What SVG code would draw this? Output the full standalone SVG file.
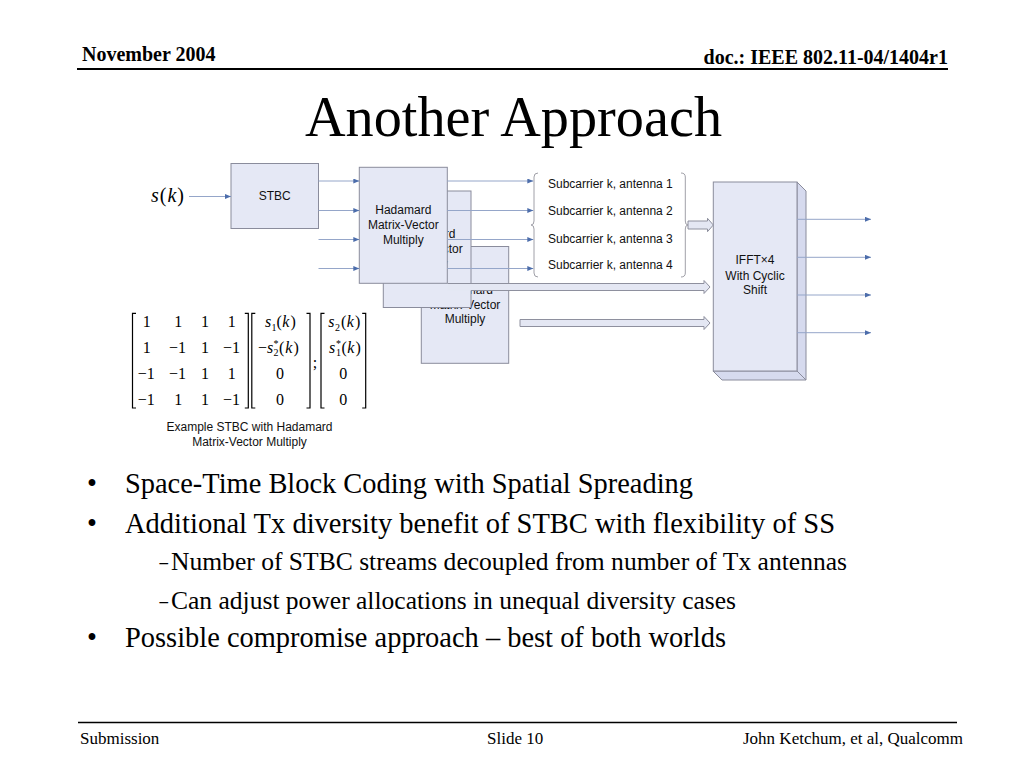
<svg xmlns="http://www.w3.org/2000/svg" width="1024" height="768" viewBox="0 0 1024 768">
<style>
.serif{font-family:"Liberation Serif","Times New Roman",serif;fill:#000}
.sans{font-family:"Liberation Sans",Arial,sans-serif;font-size:12px;fill:#111}
.box{fill:#E5E8F5;stroke:#8A8C9C;stroke-width:1}
.side{fill:#D6DAEE;stroke:#8A8C9C;stroke-width:1}
.ln{stroke:#95A6C9;stroke-width:1;fill:none}
.hol{fill:#E4E7F3;stroke:#8E909E;stroke-width:1}
.brk{stroke:#000;stroke-width:1.2;fill:none}
.brace{stroke:#A0A0A8;stroke-width:1;fill:none}
.m{font-family:"Liberation Serif","Times New Roman",serif;font-size:16px;fill:#000}
.i{font-style:italic}
.sub{font-size:10px}
</style>
<defs>
<marker id="ah" markerUnits="userSpaceOnUse" markerWidth="7" markerHeight="5" refX="6" refY="2.5" orient="auto">
<path d="M0,0 L6,2.5 L0,5 Z" fill="#4C6DAB"/>
</marker>
<clipPath id="clipMid"><polygon points="447.3,191 471,191 471,307.5 383.3,307.5 383.3,283.3 447.3,283.3"/></clipPath>
<clipPath id="clipBack"><polygon points="471,246.5 508.7,246.5 508.7,363.3 421.3,363.3 421.3,307.5 471,307.5"/></clipPath>
</defs>
<rect width="1024" height="768" fill="#fff"/>

<!-- header -->
<text class="serif" x="82" y="61" font-size="20" font-weight="bold">November 2004</text>
<text class="serif" x="948" y="63.5" font-size="20" font-weight="bold" text-anchor="end">doc.: IEEE 802.11-04/1404r1</text>
<line x1="77" y1="69" x2="948" y2="69" stroke="#000" stroke-width="2"/>
<text class="serif" x="305" y="135.5" font-size="58" textLength="417" lengthAdjust="spacingAndGlyphs">Another Approach</text>

<!-- nodes -->
<g id="sk">
<text class="serif" x="151" y="201.5" font-size="20"><tspan class="i">s</tspan><tspan dx="1">(</tspan><tspan class="i" dx="1">k</tspan><tspan dx="1">)</tspan></text>
</g>
<g id="stbc">
<rect class="box" x="231" y="163.5" width="87.5" height="65"/>
<text class="sans" x="274.8" y="200" text-anchor="middle">STBC</text>
</g>
<g id="hadamard3">
<rect class="box" x="421.3" y="246.5" width="87.4" height="116.8"/>
<g clip-path="url(#clipBack)">
<text class="sans" x="465" y="293.5" text-anchor="middle">Hadamard</text>
<text class="sans" x="465" y="308.5" text-anchor="middle">Matrix-Vector</text>
</g>
<text class="sans" x="465" y="323" text-anchor="middle">Multiply</text>
</g>
<g id="hadamard2">
<rect class="box" x="383.3" y="191" width="87.7" height="116.5"/>
<g clip-path="url(#clipMid)">
<text class="sans" x="427.3" y="238" text-anchor="middle">Hadamard</text>
<text class="sans" x="427.3" y="253" text-anchor="middle">Matrix-Vector</text>
<text class="sans" x="427.3" y="267.5" text-anchor="middle">Multiply</text>
</g>
</g>
<g id="hadamard1">
<rect class="box" x="359.3" y="167.3" width="88" height="116"/>
<text class="sans" x="403.3" y="214" text-anchor="middle">Hadamard</text>
<text class="sans" x="403.3" y="229" text-anchor="middle">Matrix-Vector</text>
<text class="sans" x="403.3" y="243.5" text-anchor="middle">Multiply</text>
</g>
<g id="subcarriers">
<path class="brace" d="M538,173 Q534,173 534,177 L534,221 Q534,225 531,225 Q534,225 534,229 L534,273 Q534,277 538,277"/>
<path class="brace" d="M681,173 Q685.3,173 685.3,177 L685.3,221 Q685.3,225 688,225 Q685.3,225 685.3,229 L685.3,273 Q685.3,277 681,277"/>
<text class="sans" x="548" y="188.3">Subcarrier k, antenna 1</text>
<text class="sans" x="548" y="215.3">Subcarrier k, antenna 2</text>
<text class="sans" x="548" y="242.5">Subcarrier k, antenna 3</text>
<text class="sans" x="548" y="268.5">Subcarrier k, antenna 4</text>
</g>
<g id="ifft">
<polygon class="side" points="797,182 806,191 806,380 797,371"/>
<polygon class="side" points="713,371 722,380 806,380 797,371"/>
<rect class="box" x="713.3" y="182" width="83.7" height="189"/>
<text class="sans" x="755" y="264" text-anchor="middle">IFFT×4</text>
<text class="sans" x="755" y="279.5" text-anchor="middle">With Cyclic</text>
<text class="sans" x="755" y="294" text-anchor="middle">Shift</text>
</g>

<!-- connectors -->
<g id="connectors">
<line class="ln" x1="189" y1="196.5" x2="231" y2="196.5" marker-end="url(#ah)"/>
<line class="ln" x1="318.5" y1="181" x2="359.3" y2="181" marker-end="url(#ah)"/>
<line class="ln" x1="318.5" y1="210.5" x2="359.3" y2="210.5" marker-end="url(#ah)"/>
<line class="ln" x1="318.5" y1="239.5" x2="359.3" y2="239.5" marker-end="url(#ah)"/>
<line class="ln" x1="318.5" y1="268.5" x2="359.3" y2="268.5" marker-end="url(#ah)"/>
<line class="ln" x1="447.3" y1="181" x2="533.3" y2="181" marker-end="url(#ah)"/>
<line class="ln" x1="447.3" y1="210.5" x2="533.3" y2="210.5" marker-end="url(#ah)"/>
<line class="ln" x1="447.3" y1="239.5" x2="533.3" y2="239.5" marker-end="url(#ah)"/>
<line class="ln" x1="447.3" y1="268.5" x2="533.3" y2="268.5" marker-end="url(#ah)"/>
<polygon points="447.5,283.5 704,283.5 704,280.5 710,287 704,293.5 704,290.5 447.5,290.5" fill="#E4E7F3"/>
<polyline points="447.5,283.5 704,283.5 704,280.5 710,287 704,293.5 704,290.5 471,290.5" fill="none" stroke="#8E909E" stroke-width="1"/>
<polygon class="hol" points="520,319.5 704,319.5 704,316.5 710,323 704,329.5 704,326.5 520,326.5"/>
<polygon class="hol" points="688,221 707.5,221 707.5,218.3 713.3,225 707.5,231.7 707.5,229 688,229"/>
<line class="ln" x1="797" y1="219.3" x2="871" y2="219.3" marker-end="url(#ah)"/>
<line class="ln" x1="797" y1="257.3" x2="871" y2="257.3" marker-end="url(#ah)"/>
<line class="ln" x1="797" y1="295" x2="871" y2="295" marker-end="url(#ah)"/>
<line class="ln" x1="797" y1="332.7" x2="871" y2="332.7" marker-end="url(#ah)"/>
</g>

<!-- matrix equation -->
<g id="equation">
<path class="brk" d="M136,313.3 H132.5 V408 H136"/>
<path class="brk" d="M244.8,313.3 H248.3 V408 H244.8"/>
<path class="brk" d="M255.3,313.3 H251.8 V408 H255.3"/>
<path class="brk" d="M306.5,313.3 H310 V408 H306.5"/>
<path class="brk" d="M324.5,313.3 H321 V408 H324.5"/>
<path class="brk" d="M362.2,313.3 H365.7 V408 H362.2"/>
<g class="m" text-anchor="middle">
<text x="146.7" y="327.3">1</text><text x="178.3" y="327.3">1</text><text x="205" y="327.3">1</text><text x="231.7" y="327.3">1</text>
<text x="146.7" y="353">1</text><text x="177.5" y="353">−1</text><text x="205" y="353">1</text><text x="231.5" y="353">−1</text>
<text x="146.3" y="379">−1</text><text x="177.5" y="379">−1</text><text x="205" y="379">1</text><text x="231.7" y="379">1</text>
<text x="146.3" y="405">−1</text><text x="178.3" y="405">1</text><text x="205" y="405">1</text><text x="231.5" y="405">−1</text>
<text x="280" y="379">0</text><text x="280" y="405">0</text>
<text x="343.3" y="379">0</text><text x="343.3" y="405">0</text>
</g>
<g class="m">
<text x="265" y="327.3"><tspan class="i">s</tspan></text>
<text class="m sub" x="271.5" y="330.5">1</text>
<text x="276.5" y="327.3">(<tspan class="i" dx="0.5">k</tspan><tspan dx="1">)</tspan></text>
<text x="258" y="353">−<tspan class="i">s</tspan></text>
<text class="m sub" x="273.5" y="346.5">*</text>
<text class="m sub" x="273.5" y="356">2</text>
<text x="279" y="353">(<tspan class="i" dx="1">k</tspan><tspan dx="1">)</tspan></text>
<text x="328.3" y="327.3"><tspan class="i">s</tspan></text>
<text class="m sub" x="335" y="330.5">2</text>
<text x="341" y="327.3">(<tspan class="i" dx="0.5">k</tspan><tspan dx="1">)</tspan></text>
<text x="329" y="353"><tspan class="i">s</tspan></text>
<text class="m sub" x="336" y="346.5">*</text>
<text class="m sub" x="336" y="356">1</text>
<text x="341.5" y="353">(<tspan class="i" dx="0.5">k</tspan><tspan dx="1">)</tspan></text>
<text x="312.8" y="367.5">;</text>
</g>
<text class="sans" x="249.5" y="430.5" text-anchor="middle">Example STBC with Hadamard</text>
<text class="sans" x="249.5" y="446" text-anchor="middle">Matrix-Vector Multiply</text>
</g>

<!-- bullets -->
<g class="serif">
<text x="87" y="493" font-size="28.4">•</text>
<text x="125" y="493" font-size="28.4" textLength="568" lengthAdjust="spacingAndGlyphs">Space-Time Block Coding with Spatial Spreading</text>
<text x="87" y="532.5" font-size="28.4">•</text>
<text x="125" y="532.5" font-size="28.4" textLength="710" lengthAdjust="spacingAndGlyphs">Additional Tx diversity benefit of STBC with flexibility of SS</text>
<text x="159.5" y="570" font-size="25.5" textLength="8.5" lengthAdjust="spacingAndGlyphs">–</text>
<text x="171" y="570" font-size="25.5" textLength="676" lengthAdjust="spacingAndGlyphs">Number of STBC streams decoupled from number of Tx antennas</text>
<text x="159.5" y="608.5" font-size="25.5" textLength="8.5" lengthAdjust="spacingAndGlyphs">–</text>
<text x="171" y="608.5" font-size="25.5" textLength="565" lengthAdjust="spacingAndGlyphs">Can adjust power allocations in unequal diversity cases</text>
<text x="87" y="647" font-size="28.4">•</text>
<text x="125" y="647" font-size="28.4" textLength="601" lengthAdjust="spacingAndGlyphs">Possible compromise approach – best of both worlds</text>
</g>

<!-- footer -->
<line x1="78" y1="722.5" x2="957" y2="722.5" stroke="#000" stroke-width="1.5"/>
<text class="serif" x="80" y="744" font-size="17">Submission</text>
<text class="serif" x="487" y="744" font-size="17">Slide 10</text>
<text class="serif" x="963" y="744" font-size="17" text-anchor="end">John Ketchum, et al, Qualcomm</text>
</svg>
